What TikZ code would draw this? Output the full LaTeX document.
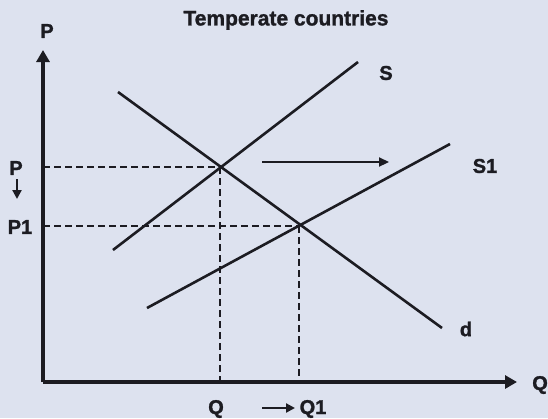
\documentclass[tikz,border=0pt]{standalone}
\usepackage{fontspec}
\setmainfont{Liberation Sans}
\newfontfamily\heavy{Liberation Sans Bold}[FakeBold=1.3]
\usetikzlibrary{arrows.meta}
\definecolor{bg}{HTML}{DDE2EF}
\definecolor{ink}{HTML}{1C1C22}
\begin{document}
\begin{tikzpicture}[x=1pt,y=-1pt,
  lbl/.style={font=\heavy\fontsize{20}{22}\selectfont, text=ink, inner sep=0pt},
  axis/.style={draw=ink, line width=3.8pt, -{Triangle[length=12pt,width=13pt]}},
  curve/.style={draw=ink, line width=2.6pt},
  guide/.style={draw=ink, line width=2.2pt, dash pattern=on 7pt off 4pt},
  shiftarrow/.style={draw=ink, line width=2.2pt, -{Triangle[length=10pt,width=9pt]}},
  smallarrow/.style={draw=ink, line width=2.2pt, -{Triangle[length=9pt,width=9pt]}}]
\fill[bg] (0,0) rectangle (548,418);
\useasboundingbox (0,0) rectangle (548,418);
% axes
\coordinate (O) at (43,382);
\coordinate (ytop) at (43,50);
\coordinate (xend) at (517,382);
\draw[axis] (O) -- (ytop);
\draw[axis] (O) -- (xend);
% curves
\coordinate (s0) at (113,250); \coordinate (s1) at (358,62);
\coordinate (t0) at (147,308); \coordinate (t1) at (450,144);
\coordinate (d0) at (118,92);  \coordinate (d1) at (442,328);
\coordinate (E) at (220,167);
\coordinate (E1) at (299,226);
\coordinate (pP) at (43,167); \coordinate (pP1) at (43,226);
\coordinate (qQ) at (220,382); \coordinate (qQ1) at (299,382);
\draw[guide] (pP) -- (E);
\draw[guide] (pP1) -- (E1);
\draw[guide] (E) -- (qQ);
\draw[guide] (E1) -- (qQ1);
\draw[curve] (s0) -- (s1);
\draw[curve] (t0) -- (t1);
\draw[curve] (d0) -- (d1);
% shift arrow
\coordinate (a0) at (262,162); \coordinate (a1) at (389,162);
\draw[shiftarrow] (a0) -- (a1);
% labels
\node[lbl, font=\heavy\fontsize{21}{23}\selectfont] (title) at (286,20) {Temperate countries};
\node[lbl, anchor=east] (Qax) at (548,385) {Q};
\node[lbl] (Pax) at (47,31) {P};
\node[lbl] (S) at (386,73) {S};
\node[lbl] (S1) at (485,166) {S1};
\node[lbl] (d) at (466,329) {d};
\node[lbl] (P) at (16,168) {P};
\node[lbl] (P1) at (20,227) {P1};
\coordinate (pa0) at (17,179); \coordinate (pa1) at (17,199);
\draw[smallarrow] (pa0) -- (pa1);
\node[lbl] (Q) at (216,409) {Q};
\node[lbl] (Q1) at (313,409) {Q1};
\coordinate (qa0) at (262,408); \coordinate (qa1) at (295,408);
\draw[smallarrow] (qa0) -- (qa1);
\end{tikzpicture}
\end{document}
